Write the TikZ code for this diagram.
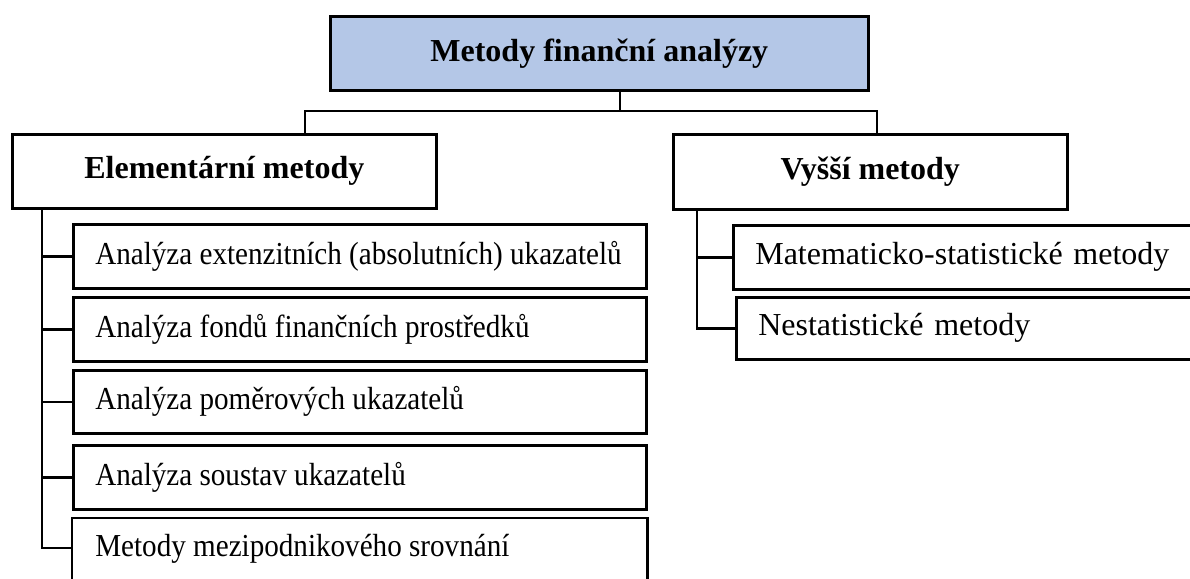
\documentclass[tikz,border=0pt]{standalone}
\usepackage{fontspec}
\setmainfont{Liberation Serif}
\definecolor{topblue}{HTML}{B4C7E7}
\newcommand{\lefttext}[1]{\makebox[529pt][l]{\scalebox{0.91}[1]{\fontsize{32}{38}\selectfont #1}}}
\begin{document}
\begin{tikzpicture}[x=1pt,y=-1pt,
  conn/.style={draw=black, line width=2.4pt, line cap=rect},
  hbox/.style={draw=black, line width=2.6pt, rectangle, anchor=north west, inner sep=0pt,
    font=\fontsize{32}{38}\selectfont\bfseries},
  lbox/.style={draw=black, line width=2.6pt, rectangle, anchor=north west, inner xsep=22pt, inner ysep=0pt},
  rbox/.style={draw=black, line width=2.6pt, rectangle, anchor=north west, inner xsep=22pt, inner ysep=0pt,
    font=\fontsize{32}{38}\selectfont}
]
\useasboundingbox (0,0) rectangle (1190,578);
\clip (0,0) rectangle (1190,578);

% headings
\node[hbox, fill=topblue, minimum width=538pt, minimum height=74pt] (top) at (329,15) {Metody finanční analýzy};
\node[hbox, minimum width=424pt, minimum height=74pt] (elem) at (11,133) {Elementární metody};
\node[hbox, minimum width=394pt, minimum height=75pt] (vys) at (672,133) {Vyšší metody};

% left sub-boxes
\node[lbox, minimum height=64pt] (b1) at (72,223) {\lefttext{Analýza extenzitních (absolutních) ukazatelů}};
\node[lbox, minimum height=64pt] (b2) at (72,296) {\lefttext{Analýza fondů finančních prostředků}};
\node[lbox, minimum height=63pt] (b3) at (72,369) {\lefttext{Analýza poměrových ukazatelů}};
\node[lbox, minimum height=64pt] (b4) at (72,444) {\lefttext{Analýza soustav ukazatelů}};
\node[lbox, draw=none, minimum height=60pt] (b5) at (72,518) {\lefttext{Metody mezipodnikového srovnání}};
\draw[line width=2.6pt] ([yshift=-60pt]b5.south west) -- (b5.north west) -- (b5.north east) -- ([yshift=-60pt]b5.south east);

% right sub-boxes
\node[rbox, text width=556pt, minimum height=64pt] (m) at (732,224) {Matematicko-statistické metody};
\node[rbox, text width=556pt, minimum height=62pt] (n) at (735,296) {Nestatistické metody};

% connectors top level
\coordinate (j) at (620,111);
\coordinate (jl) at (305,111);
\coordinate (jr) at (877,111);
\draw[conn] (top.south -| j) -- (j);
\draw[conn] (jl) -- (jr);
\draw[conn] (jl) -- (elem.north -| jl);
\draw[conn] (jr) -- (vys.north -| jr);

% left column
\coordinate (lx) at (42,0);
\coordinate (t5) at (72,548);
\draw[conn] (elem.south -| lx) -- (t5 -| lx) -- (t5);
\foreach \b in {b1,b2,b3,b4} \draw[conn] (\b.west -| lx) -- (\b.west);

% right column
\coordinate (rx) at (697,0);
\draw[conn] (vys.south -| rx) -- (n.west -| rx) -- (n.west);
\draw[conn] (m.west -| rx) -- (m.west);
\end{tikzpicture}
\end{document}
